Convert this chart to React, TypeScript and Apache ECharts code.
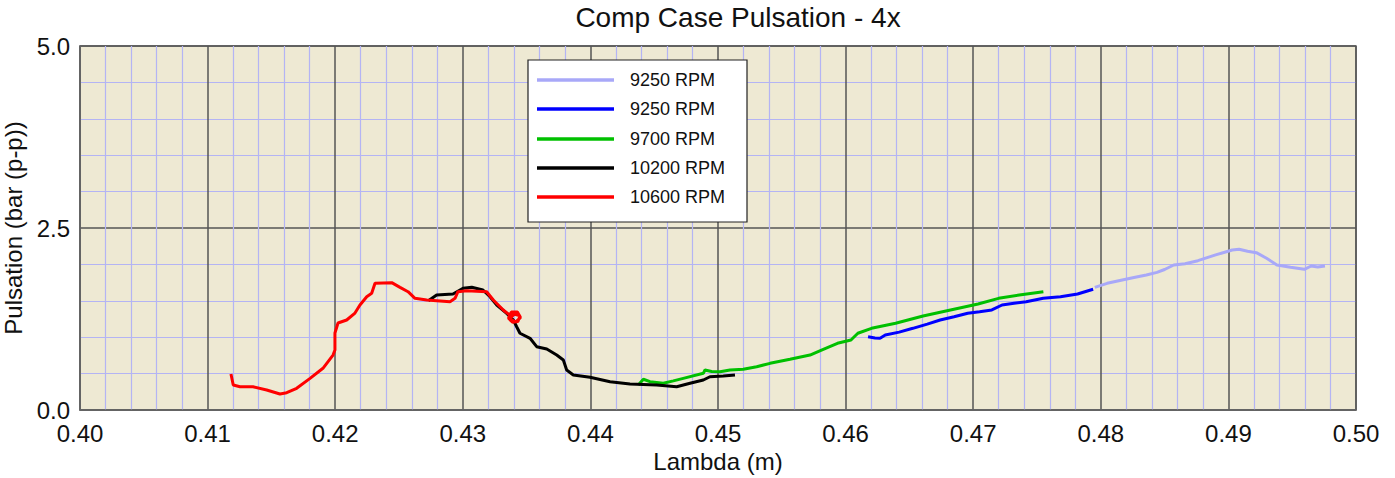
import React, { useEffect, useRef } from "react";
import * as echarts from "echarts";

const TITLE = "Comp Case Pulsation - 4x";
const X_NAME = "Lambda (m)";
const Y_NAME = "Pulsation (bar (p-p))";

const LEGEND_LABELS = ["9250 RPM", "9250 RPM", "9700 RPM", "10200 RPM", "10600 RPM"];
const SERIES_COLORS = ["#A8A8F8", "#0000FF", "#00C000", "#000000", "#FF0000"];

const lightBlue9250: [number, number][] = [
  [0.47953, 1.685], [0.4805, 1.74], [0.48168, 1.786], [0.4826, 1.82], [0.48357, 1.854],
  [0.4844, 1.89], [0.485, 1.93], [0.48572, 1.992], [0.4866, 2.01], [0.48761, 2.051],
  [0.489, 2.13], [0.4903, 2.198], [0.49084, 2.207], [0.4915, 2.18], [0.49219, 2.161],
  [0.49299, 2.084], [0.4938, 1.992], [0.49487, 1.96], [0.49595, 1.933], [0.49649, 1.978],
  [0.497, 1.965], [0.49757, 1.978],
];

const blue9250: [number, number][] = [
  [0.46176, 1.007], [0.4623, 0.99], [0.4627, 0.985], [0.46311, 1.03], [0.4642, 1.07],
  [0.46527, 1.122], [0.4664, 1.18], [0.46741, 1.236], [0.4685, 1.28], [0.46957, 1.328],
  [0.4705, 1.35], [0.47146, 1.374], [0.47226, 1.442], [0.4732, 1.465], [0.47415, 1.488],
  [0.47549, 1.534], [0.47684, 1.556], [0.47818, 1.593], [0.4794, 1.658],
];

const green9700: [number, number][] = [
  [0.44375, 0.343], [0.44415, 0.422], [0.44467, 0.389], [0.44571, 0.367], [0.4465, 0.4],
  [0.44728, 0.435], [0.44885, 0.504], [0.44898, 0.549], [0.4495, 0.53], [0.45016, 0.526],
  [0.45094, 0.549], [0.45198, 0.559], [0.45303, 0.595], [0.45408, 0.641], [0.45564, 0.696],
  [0.45721, 0.755], [0.45825, 0.834], [0.45936, 0.916], [0.46042, 0.962], [0.46096, 1.054],
  [0.46203, 1.122], [0.46392, 1.191], [0.46607, 1.291], [0.46822, 1.374], [0.47038, 1.456],
  [0.47199, 1.534], [0.47361, 1.58], [0.4755, 1.625],
];

const black10200: [number, number][] = [
  [0.4273, 1.501], [0.42795, 1.58], [0.42923, 1.593], [0.43002, 1.672], [0.4307, 1.685],
  [0.43158, 1.648], [0.43213, 1.556], [0.43266, 1.442], [0.43344, 1.328], [0.43396, 1.236],
  [0.43422, 1.144], [0.43448, 1.054], [0.43527, 0.985], [0.43579, 0.87], [0.43658, 0.838],
  [0.43736, 0.755], [0.43788, 0.687], [0.43814, 0.549], [0.43866, 0.481], [0.43997, 0.449],
  [0.44154, 0.389], [0.4431, 0.357], [0.4452, 0.343], [0.44676, 0.32], [0.44781, 0.367],
  [0.44885, 0.412], [0.44937, 0.457], [0.45041, 0.467], [0.45133, 0.481],
];

const red10600: [number, number][] = [
  [0.41183, 0.495], [0.41201, 0.343], [0.41254, 0.32], [0.41356, 0.32], [0.41463, 0.275],
  [0.41567, 0.22], [0.4162, 0.238], [0.41698, 0.298], [0.41803, 0.435], [0.41904, 0.573],
  [0.41983, 0.755], [0.41998, 0.824], [0.41998, 1.058], [0.42022, 1.195], [0.4209, 1.236],
  [0.42155, 1.332], [0.42194, 1.442], [0.42247, 1.556], [0.42286, 1.603], [0.42312, 1.74],
  [0.42443, 1.749], [0.42508, 1.685], [0.42571, 1.625], [0.42625, 1.534], [0.42717, 1.511],
  [0.429, 1.488], [0.42939, 1.534], [0.42962, 1.625], [0.43031, 1.639], [0.43187, 1.625],
  [0.43239, 1.511], [0.43317, 1.374], [0.43383, 1.282], [0.4342, 1.34], [0.43448, 1.29],
  [0.43432, 1.215], [0.4339, 1.205], [0.43358, 1.26], [0.4338, 1.345], [0.43428, 1.345],
  [0.43452, 1.27], [0.43415, 1.21], [0.43372, 1.245], [0.43395, 1.32], [0.43435, 1.3],
];

const SERIES_DATA = [lightBlue9250, blue9250, green9700, black10200, red10600];

const X_MIN = 0.4, X_MAX = 0.5, X_STEP = 0.01;
const Y_MIN = 0, Y_MAX = 5, Y_STEP = 2.5;

const FONT = "'Liberation Sans', Arial, Helvetica, sans-serif";

export default function App() {
  const ref = useRef<HTMLDivElement>(null);
  useEffect(() => {
    if (!ref.current) return;
    const chart = echarts.init(ref.current, undefined, { renderer: "svg" });

    const legendX = 528, legendY = 60, legendW = 219, legendH = 162;
    const itemYs = [80, 109, 139, 168, 197];
    const legendEls: any[] = [
      {
        type: "rect",
        shape: { x: legendX, y: legendY, width: legendW, height: legendH },
        style: { fill: "#FFFFFF", stroke: "#222222", lineWidth: 1.2 },
        z: 100,
      },
    ];
    LEGEND_LABELS.forEach((lab, i) => {
      legendEls.push({
        type: "line",
        shape: { x1: 537, y1: itemYs[i], x2: 614, y2: itemYs[i] },
        style: { stroke: SERIES_COLORS[i], lineWidth: 3.5 },
        z: 101,
      });
      legendEls.push({
        type: "text",
        x: 630,
        y: itemYs[i],
        style: {
          text: lab,
          fill: "#111111",
          fontSize: 18,
          fontFamily: FONT,
          verticalAlign: "middle",
          align: "left",
        },
        z: 101,
      });
    });

    chart.setOption({
      animation: false,
      backgroundColor: "#FFFFFF",
      title: {
        text: TITLE,
        left: 738,
        textAlign: "center",
        top: 3,
        padding: 0,
        textStyle: { fontSize: 28, fontWeight: "normal", color: "#111111", fontFamily: FONT },
      },
      grid: {
        left: 80,
        top: 46,
        right: 39,
        bottom: 68,
        show: true,
        backgroundColor: "#EEE9D3",
        borderColor: "#666666",
        borderWidth: 1.5,
        containLabel: false,
        outerBoundsMode: "none",
      },
      xAxis: {
        type: "value",
        min: X_MIN,
        max: X_MAX,
        interval: X_STEP,
        name: X_NAME,
        nameLocation: "middle",
        nameGap: 39,
        nameTextStyle: { fontSize: 24, color: "#111111", fontFamily: FONT },
        axisLine: { show: true, lineStyle: { color: "#666666", width: 1.5 } },
        axisTick: { show: false },
        axisLabel: {
          fontSize: 24,
          color: "#111111",
          fontFamily: FONT,
          margin: 11,
          formatter: (v: number) => v.toFixed(2),
        },
        splitLine: { show: true, lineStyle: { color: "#555555", width: 1.5 } },
        minorTick: { show: false, splitNumber: 5 },
        minorSplitLine: { show: true, lineStyle: { color: "#B4B4F4", width: 1.2 } },
      },
      yAxis: {
        type: "value",
        min: Y_MIN,
        max: Y_MAX,
        interval: Y_STEP,
        name: Y_NAME,
        nameLocation: "middle",
        nameGap: 44,
        nameTextStyle: { fontSize: 24, color: "#111111", fontFamily: FONT },
        axisLine: { show: true, lineStyle: { color: "#666666", width: 1.5 } },
        axisTick: { show: false },
        axisLabel: {
          fontSize: 24,
          color: "#111111",
          fontFamily: FONT,
          margin: 10,
          formatter: (v: number) => v.toFixed(1),
        },
        splitLine: { show: true, lineStyle: { color: "#555555", width: 1.5 } },
        minorTick: { show: false, splitNumber: 5 },
        minorSplitLine: { show: true, lineStyle: { color: "#B4B4F4", width: 1.2 } },
      },
      graphic: { elements: legendEls },
      series: SERIES_DATA.map((d, i) => ({
        name: LEGEND_LABELS[i] + "#" + i,
        type: "line",
        data: d,
        showSymbol: false,
        symbol: "none",
        lineStyle: { color: SERIES_COLORS[i], width: 3 },
        itemStyle: { color: SERIES_COLORS[i] },
        z: 3 + i,
      })),
    });
    return () => chart.dispose();
  }, []);
  return (
    <div
      ref={ref}
      style={{ position: "absolute", left: 0, top: 0, width: 1395, height: 478 }}
    />
  );
}
